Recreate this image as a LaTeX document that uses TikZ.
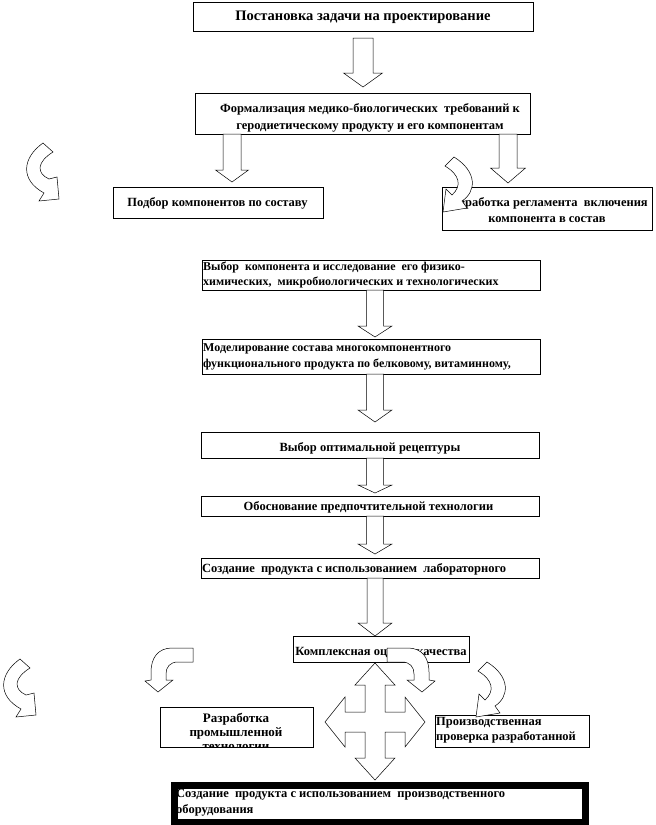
\documentclass[tikz,border=0pt]{standalone}
\usepackage{fontspec}
\setmainfont{Liberation Serif}
\tikzset{
  boxst/.style={draw=black, line width=0.6pt, fill=white, inner sep=0pt, anchor=north west},
  txt/.style={font=\bfseries\fontsize{12.5}{16}\selectfont, inner sep=0pt, align=center},
  txtl/.style={txt, align=left, anchor=west},
  barrow/.style={draw=black, line width=0.5pt, fill=white, line join=miter},
}
\newcommand\blockarrow[6]{%
  \draw[barrow] (#1-#5,#2) -- (#1+#5,#2) -- (#1+#5,#3) -- (#1+#6,#3) -- (#1,#4)
    -- (#1-#6,#3) -- (#1-#5,#3) -- cycle;}
\newcommand\curvA{(43,143) -- (53,152) .. controls (37,162) and (36,173) .. (49,179)
  -- (57,177) -- (59,199) -- (39,201) -- (44,193)
  .. controls (20,180) and (22,158) .. (43,143) -- cycle}
\newcommand\curvB{(445,166) -- (454,157) .. controls (478,172) and (476,192) .. (462,201)
  -- (467,208) -- (443,212) -- (446,189) -- (452,195)
  .. controls (462,186) and (460,175) .. (445,166) -- cycle}
\newcommand\curvQ{(387,648) -- (408,648) .. controls (422,648) and (429,658) .. (429,672)
  -- (429,680) -- (435,681) -- (422,692) -- (407,680) -- (414,680) -- (414,674)
  .. controls (414,667) and (410,662) .. (402,662) -- (387,662) -- cycle}
\begin{document}
\begin{tikzpicture}[x=1pt,y=-1pt]
\useasboundingbox (0,0) rectangle (656,825);
% boxes
\node[boxst, minimum width=340pt, minimum height=29pt] (b1) at (193,2) {};
\node[txt, font=\bfseries\fontsize{14.5}{17}\selectfont] (t1) at (363,17) {Постановка задачи на проектирование};
\node[boxst, minimum width=335pt, minimum height=41pt] (b2) at (195,93) {};
\node[txt, font=\bfseries\fontsize{12.5}{17}\selectfont] (t2) at (370,117.5) {Формализация медико-биологических \ требований к\\геродиетическому продукту и его компонентам};
\node[boxst, minimum width=210pt, minimum height=31pt] (b3) at (113,187) {};
\node[txt] (t3) at (217.5,203) {Подбор компонентов по составу};
\node[boxst, minimum width=210pt, minimum height=43pt] (b4) at (442,187) {};
\node[txt] (t4) at (547,210) {Разработка регламента \ включения\\компонента в состав};
\node[boxst, minimum width=338pt, minimum height=30pt] (b5) at (202,260) {};
\node[txtl, font=\bfseries\fontsize{12}{15}\selectfont] (t5) at (203,274.5) {Выбор \ компонента и исследование \ его физико-\\химических, \ микробиологических и технологических};
\node[boxst, minimum width=338pt, minimum height=35pt] (b6) at (202,339) {};
\node[txtl, font=\bfseries\fontsize{12}{16}\selectfont] (t6) at (203,357) {Моделирование состава многокомпонентного\\функционального продукта по белковому, витаминному,};
\node[boxst, minimum width=338pt, minimum height=26pt] (b7) at (201,432) {};
\node[txt] (t7) at (370,448) {Выбор оптимальной рецептуры};
\node[boxst, minimum width=338pt, minimum height=20pt] (b8) at (201,496) {};
\node[txt] (t8) at (368.5,507) {Обоснование предпочтительной технологии};
\node[boxst, minimum width=338pt, minimum height=20pt] (b9) at (201,558) {};
\node[txtl] (t9) at (202,569) {Создание \ продукта с использованием \ лабораторного};
\node[boxst, minimum width=176pt, minimum height=26pt] (b10) at (293,636) {};
\node[txt] (t10) at (381,652) {Комплексная оценка качества};
\node[boxst, minimum width=153pt, minimum height=40pt] (b11) at (160,707) {};
\begin{scope}
  \clip (b11.north west) rectangle (b11.south east);
  \node[txt, font=\bfseries\fontsize{13}{14}\selectfont] (t11) at (236,731.5) {Разработка\\промышленной\\технологии};
\end{scope}
\node[boxst, minimum width=154pt, minimum height=32pt] (b12) at (435,715) {};
\node[txtl, font=\bfseries\fontsize{12.5}{15}\selectfont] (t12) at (436,730.5) {Производственная\\проверка разработанной};
% block arrows
\blockarrow{363}{38}{73}{87}{10}{19.5}
\blockarrow{232}{134}{170}{182}{9}{16.5}
\blockarrow{508}{134}{168}{183}{9}{17.5}
\blockarrow{375}{290}{326}{337}{8.5}{17}
\blockarrow{375}{374}{410}{422}{8.5}{17}
\blockarrow{375}{458}{485}{493}{8.5}{17}
\blockarrow{375}{516}{544}{554}{8.5}{17}
\blockarrow{375}{578}{623}{636}{8}{17}
% curved arrows
\draw[barrow] \curvA;
\draw[barrow, shift={(-23,516)}] \curvA;
\draw[barrow] \curvB;
\draw[barrow, shift={(33,505)}] \curvB;
\draw[barrow] \curvQ;
\draw[barrow, xshift=580pt, xscale=-1] \curvQ;
% four-way arrow
\draw[barrow] (375,663) -- (395,685) -- (385,685) -- (385,712) -- (405,712) -- (405,697)
  -- (425,722) -- (405,747) -- (405,732) -- (385,732) -- (385,758) -- (395,758)
  -- (375,780) -- (355,758) -- (365,758) -- (365,732) -- (345,732) -- (345,747)
  -- (325,722) -- (345,697) -- (345,712) -- (365,712) -- (365,685) -- (355,685) -- cycle;
% final box
\node[txtl, font=\bfseries\fontsize{12.5}{16}\selectfont] (t13) at (176,803) {Создание \ продукта с использованием \ производственного\\оборудования};
\node[draw=black, line width=7pt, inner sep=0pt, anchor=north west, minimum width=411pt, minimum height=37pt] (b13) at (170.5,781.5) {};
\end{tikzpicture}
\end{document}
